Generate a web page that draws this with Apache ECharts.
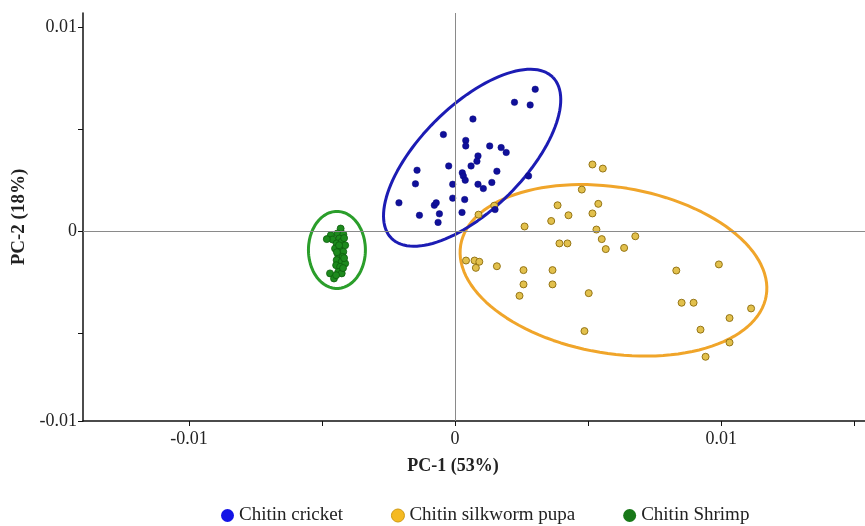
<!DOCTYPE html>
<html>
<head>
<meta charset="utf-8">
<script src="https://cdn.jsdelivr.net/npm/echarts@6/dist/echarts.min.js"></script>
<style>
html,body{margin:0;padding:0;background:#fff;}
#main{width:865px;height:526px;}
</style>
</head>
<body>
<div id="main"></div>
<script>
// scores (PC-1, PC-2)
var cricket = [
  [0.00301,0.00696],[0.00223,0.00632],[0.00282,0.00619],[0.00067,0.00550],[-0.00044,0.00474],
  [0.00040,0.00445],[0.00040,0.00418],[0.00130,0.00418],[0.00173,0.00410],[0.00192,0.00386],
  [0.00086,0.00369],[0.00082,0.00343],[-0.00024,0.00320],[0.00060,0.00320],[-0.00143,0.00299],
  [0.00157,0.00294],[0.00027,0.00286],[0.00031,0.00270],[0.00038,0.00250],[0.00276,0.00271],
  [-0.00149,0.00232],[-0.00009,0.00230],[0.00086,0.00230],[0.00106,0.00209],[0.00138,0.00239],
  [-0.00211,0.00139],[-0.00078,0.00127],[-0.00071,0.00139],[-0.00009,0.00162],[0.00036,0.00155],
  [-0.00134,0.00078],[-0.00059,0.00085],[0.00026,0.00092],[-0.00064,0.00043],[0.00150,0.00106]
];
var silkworm = [
  [0.00516,0.00327],[0.00555,0.00307],[0.00476,0.00204],[0.00385,0.00127],[0.00538,0.00134],
  [0.00426,0.00078],[0.00516,0.00087],[0.00361,0.00050],[0.00261,0.00023],[0.00531,0.00008],
  [0.00551,-0.00039],[0.00392,-0.00060],[0.00422,-0.00060],[0.00566,-0.00088],[0.00635,-0.00082],
  [0.00677,-0.00025],[0.00041,-0.00144],[0.00073,-0.00144],[0.00091,-0.00150],[0.00078,-0.00180],
  [0.00157,-0.00172],[0.00257,-0.00191],[0.00366,-0.00191],[0.00257,-0.00261],[0.00366,-0.00261],
  [0.00242,-0.00317],[0.00502,-0.00304],[0.00486,-0.00490],[0.00831,-0.00193],[0.00991,-0.00163],
  [0.00851,-0.00351],[0.00896,-0.00351],[0.01112,-0.00379],[0.01031,-0.00426],[0.00922,-0.00483],
  [0.01031,-0.00546],[0.00941,-0.00616],[0.00088,0.00081],[0.00147,0.00125]
];
var shrimp = [
  [-0.00430,0.00013],[-0.00442,-0.00011],[-0.00467,-0.00020],[-0.00420,-0.00015],[-0.00460,-0.00041],
  [-0.00435,-0.00036],[-0.00445,-0.00060],[-0.00426,-0.00052],[-0.00413,-0.00069],[-0.00451,-0.00085],
  [-0.00432,-0.00093],[-0.00420,-0.00101],[-0.00439,-0.00118],[-0.00422,-0.00126],[-0.00445,-0.00142],
  [-0.00426,-0.00150],[-0.00413,-0.00158],[-0.00447,-0.00167],[-0.00432,-0.00175],[-0.00439,-0.00200],
  [-0.00470,-0.00207],[-0.00455,-0.00232],[-0.00426,-0.00207],[-0.00482,-0.00039],[-0.00417,-0.00034],
  [-0.00436,-0.00069],[-0.00417,-0.00132],[-0.00444,-0.00103],[-0.00421,-0.00181],[-0.00447,-0.00216]
];
// confidence ellipses: centre, semi-axis U, semi-axis V (data units)
var ellCricket  = {c:[0.00064,0.00360],  u:[0.00303,0.00395],  v:[0.00138,-0.00180]};
var ellSilkworm = {c:[0.00595,-0.00192], u:[0.00574,-0.00124], v:[-0.00051,-0.00402]};
var ellShrimp   = {c:[-0.00444,-0.00092],u:[0.00107,0],        v:[0,-0.00189]};

var names = ['Chitin cricket','Chitin silkworm pupa','Chitin Shrimp'];
var xTicks = [-0.01,-0.005,0,0.005,0.01,0.015];
var xLabels = [-0.01,0,0.01];
var yTicks = [-0.00931,-0.005,0,0.005,0.01];
var yLabels = [-0.00931,0,0.01];

function ellipse(e){
  var pts=[];
  for(var i=0;i<=120;i++){
    var t=i/120*2*Math.PI;
    pts.push([e.c[0]+e.u[0]*Math.cos(t)+e.v[0]*Math.sin(t), e.c[1]+e.u[1]*Math.cos(t)+e.v[1]*Math.sin(t)]);
  }
  return pts;
}
function fmt(v){
  if(Math.abs(v)<1e-9) return '0';
  if(v<-0.009) return '-0.01';
  return v.toFixed(2);
}
var serif = 'Liberation Serif';

var myChart = echarts.init(document.getElementById('main'));
var option = {
  animation:false,
  backgroundColor:'#fff',
  grid:{left:83,right:0,top:13,bottom:105},
  legend:{
    left:216, top:501, itemWidth:13, itemHeight:13, itemGap:48, icon:'circle',
    textStyle:{fontFamily:serif,fontSize:19,color:'#222'},
    data:[
      {name:names[0],itemStyle:{color:'#1414e6',borderWidth:0}},
      {name:names[1],itemStyle:{color:'#f5ba22',borderColor:'#d09a10',borderWidth:1}},
      {name:names[2],itemStyle:{color:'#187818',borderWidth:0}}
    ]
  },
  xAxis:{
    type:'value', min:-0.01398, max:0.0154,
    name:'PC-1 (53%)', nameLocation:'middle', nameGap:36,
    nameTextStyle:{fontFamily:serif,fontSize:18,fontWeight:'bold',color:'#222',padding:[0,42,0,0]},
    axisLine:{show:true,onZero:false,lineStyle:{color:'#111',width:1.5}},
    axisTick:{show:true,length:5,customValues:xTicks,lineStyle:{color:'#111'}},
    axisLabel:{customValues:xLabels,formatter:fmt,margin:9,fontFamily:serif,fontSize:18,color:'#222'},
    splitLine:{show:false}
  },
  yAxis:{
    type:'value', min:-0.00931, max:0.0107,
    name:'PC-2 (18%)', nameLocation:'middle', nameGap:54,
    nameTextStyle:{fontFamily:serif,fontSize:19,fontWeight:'bold',color:'#222'},
    axisLine:{show:true,onZero:false,lineStyle:{color:'#111',width:1.5}},
    axisTick:{show:true,length:5,customValues:yTicks,lineStyle:{color:'#111'}},
    axisLabel:{customValues:yLabels,formatter:fmt,margin:6,fontFamily:serif,fontSize:18,color:'#222'},
    splitLine:{show:false}
  },
  series:[
    {
      name:'ell-shrimp', type:'line', data:ellipse(ellShrimp), showSymbol:false, silent:true, z:2,
      lineStyle:{color:'#2b9e2b',width:3},
      markLine:{
        silent:true, symbol:'none', label:{show:false},
        lineStyle:{color:'#8a8a8a',width:1,type:'solid'},
        data:[{xAxis:0},{yAxis:0}]
      }
    },
    {
      name:'ell-silkworm', type:'line', data:ellipse(ellSilkworm), showSymbol:false, silent:true, z:2,
      lineStyle:{color:'#f0a52a',width:3}
    },
    {
      name:'ell-cricket', type:'line', data:ellipse(ellCricket), showSymbol:false, silent:true, z:2,
      lineStyle:{color:'#1c1cb4',width:3}
    },
    {
      name:names[1], type:'scatter', data:silkworm, symbolSize:7, z:3,
      itemStyle:{color:'#e2c04c',borderColor:'#957516',borderWidth:1,opacity:1}
    },
    {
      name:names[0], type:'scatter', data:cricket, symbolSize:6.5, z:3,
      itemStyle:{color:'#10109a',borderColor:'#0a0a80',borderWidth:0.5,opacity:1}
    },
    {
      name:names[2], type:'scatter', data:shrimp, symbolSize:7, z:3,
      itemStyle:{color:'#1d8a1d',borderColor:'#0e5e0e',borderWidth:0.8,opacity:1}
    }
  ]
};
myChart.setOption(option);
</script>
</body>
</html>
